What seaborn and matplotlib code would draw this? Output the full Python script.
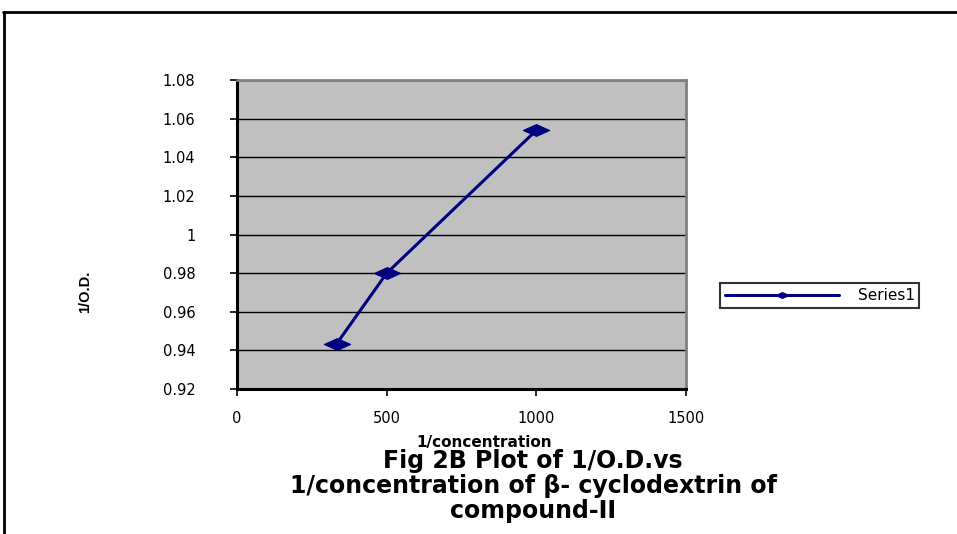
import numpy as np
import pandas as pd
import seaborn as sns
import matplotlib.pyplot as plt
from matplotlib.lines import Line2D
from matplotlib.path import Path

# data
inv_conc = [333, 500, 1000]
inv_od = [0.9435, 0.980, 1.054]
series = ["Series1"] * 3

x_ticks = [0, 500, 1000, 1500]
y_ticks = [0.92, 0.94, 0.96, 0.98, 1.00, 1.02, 1.04, 1.06, 1.08]
y_ticklabels = ['0.92', '0.94', '0.96', '0.98', '1', '1.02', '1.04', '1.06', '1.08']

df = pd.DataFrame({"1/concentration": inv_conc, "1/O.D.": inv_od, "series": series})

sns.set_style("white")
plt.rcParams['font.family'] = ['DejaVu Sans']
plt.rcParams['text.color'] = 'black'
plt.rcParams['axes.labelcolor'] = 'black'
plt.rcParams['xtick.color'] = 'black'
plt.rcParams['ytick.color'] = 'black'

# flattened diamond like the Excel marker
flat_diamond = Path([(-1, 0), (0, 0.45), (1, 0), (0, -0.45), (-1, 0)],
                    [Path.MOVETO, Path.LINETO, Path.LINETO, Path.LINETO, Path.CLOSEPOLY])

fig = plt.figure(figsize=(9.57, 5.34), dpi=100)
ax = fig.add_axes([0.2477, 0.2715, 0.4692, 0.5787])
ax.set_facecolor('#C0C0C0')

sns.lineplot(data=df, x="1/concentration", y="1/O.D.", hue="series",
             palette=["#000080"], marker=flat_diamond, markersize=19, linewidth=2.2,
             markeredgecolor="#000080", ax=ax)

ax.set_xlim(0, 1500)
ax.set_ylim(0.92, 1.08)
ax.set_xticks(x_ticks)
ax.set_yticks(y_ticks)
ax.set_yticklabels(y_ticklabels)
ax.grid(True, axis='y', color='black', linewidth=1)
ax.set_axisbelow(True)
ax.tick_params(axis='both', direction='out', length=5, width=1.2, color='black',
               labelsize=10.5, bottom=True, left=True)
ax.tick_params(axis='y', pad=25)
ax.tick_params(axis='x', pad=11)

for s in ['left', 'bottom']:
    ax.spines[s].set_color('black')
    ax.spines[s].set_linewidth(2.2)
for s in ['top', 'right']:
    ax.spines[s].set_color('#808080')
    ax.spines[s].set_linewidth(2)

ax.set_xlabel("1/concentration", fontsize=11, fontweight='bold')
ax.xaxis.set_label_coords(0.55, -0.149)
ax.set_ylabel("1/O.D.", fontsize=10.5, fontweight='bold', family='Liberation Sans')
ax.yaxis.set_label_coords(-0.323, 0.314)

fig.text(0.557, 0.0899, "Fig 2B Plot of 1/O.D.vs\n1/concentration of β- cyclodextrin of\ncompound-II",
         ha='center', va='center', multialignment='center', fontsize=17,
         fontweight='bold', linespacing=1.05)

leg = ax.legend(loc='center left', bbox_to_anchor=(0.7524, 0.4466),
                bbox_transform=fig.transFigure, frameon=True, fancybox=False,
                fontsize=11, handlelength=7.5, handletextpad=1.2, borderpad=0.3,
                borderaxespad=0, markerscale=0.5)
leg.get_frame().set_edgecolor('black')
leg.get_frame().set_linewidth(1.5)

# outer frame lines
fig.add_artist(Line2D([0.003, 1.0], [0.978, 0.978], color='black', linewidth=2))
fig.add_artist(Line2D([0.004, 0.004], [0.0, 0.978], color='black', linewidth=2))

fig.savefig("out.png", dpi=100)
